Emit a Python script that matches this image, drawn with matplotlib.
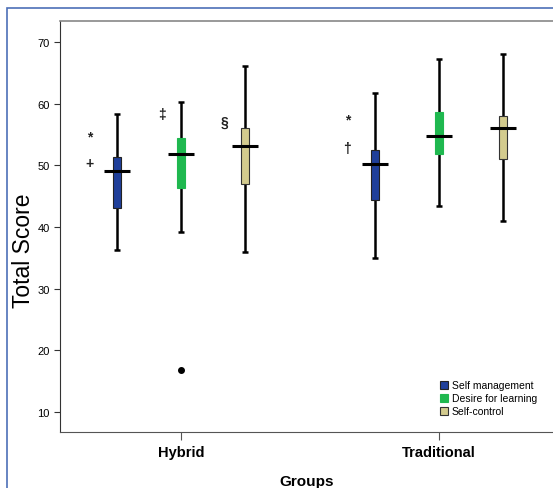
import numpy as np
import matplotlib.pyplot as plt
from matplotlib.patches import Rectangle

plt.rcParams['font.family'] = ['Liberation Sans', 'DejaVu Sans']

# data
groups = ['Hybrid', 'Traditional']
scales = ['Self management', 'Desire for learning', 'Self-control']
colors = ['#1f3f9a', '#1fb84f', '#d3cb8e']
edges = ['#222222', '#1fb84f', '#333333']

whis_lo = [[36.2, 39.2, 36.0], [35.0, 43.4, 41.0]]
q1 = [[43.1, 46.3, 47.0], [44.3, 51.9, 51.0]]
median = [[49.0, 51.9, 53.1], [50.2, 54.7, 56.1]]
q3 = [[51.4, 54.5, 56.1], [52.5, 58.7, 58.0]]
whis_hi = [[58.3, 60.3, 66.1], [61.8, 67.2, 68.1]]
outlier_x = [0]          # Hybrid, Desire for learning
outlier_s = [1]
outlier_y = [16.8]

# significance marks
mark_txt = ['*', '+', '\u2021', '\u00a7', '*', '\u2020']
mark_x = [-0.355, -0.355, -0.075, 0.167, 0.645, 0.645]
mark_y = [54.6, 50.4, 58.3, 57.1, 57.4, 52.8]

offset = 0.248
box_w = 0.028
med_w = 0.1
cap_w = 0.026

fig = plt.figure(figsize=(5.53, 4.89), dpi=100)
ax = fig.add_axes([0.1085, 0.1145, 0.8915, 0.8405])

for g in range(len(groups)):
    for s in range(len(scales)):
        x = g + (s - 1) * offset
        ax.vlines(x, whis_lo[g][s], whis_hi[g][s], color='black', lw=1.8, zorder=1)
        ax.hlines([whis_lo[g][s], whis_hi[g][s]], x - cap_w / 2, x + cap_w / 2,
                  color='black', lw=1.8, zorder=1)
        ax.bar(x, q3[g][s] - q1[g][s], bottom=q1[g][s], width=box_w,
               color=colors[s], edgecolor=edges[s], lw=0.8, zorder=2,
               label=scales[s] if g == 0 else None)
        ax.hlines(median[g][s], x - med_w / 2, x + med_w / 2,
                  color='black', lw=2.2, zorder=3)

for i in range(len(outlier_y)):
    ax.plot(outlier_x[i] + (outlier_s[i] - 1) * offset, outlier_y[i], 'o',
            color='black', ms=4, zorder=3)

for t, x, y in zip(mark_txt, mark_x, mark_y):
    ax.text(x, y, t, ha='center', va='center', fontsize=10, fontweight='bold',
            color='#222222')

ax.set_xlim(-0.469, 1.442)
ax.set_ylim(6.75, 73.4)
ax.set_yticks([10, 20, 30, 40, 50, 60, 70])
ax.set_xticks([0, 1])
ax.set_xticklabels(groups, fontsize=10.5, fontweight='bold')
ax.tick_params(axis='y', labelsize=8, length=4, color='#333333')
ax.tick_params(axis='x', length=6, color='#555555', pad=3)
ax.spines['right'].set_visible(False)
ax.spines['top'].set_color('#888888')
ax.spines['top'].set_linewidth(1.2)
ax.spines['left'].set_color('#333333')
ax.spines['bottom'].set_color('#555555')

ax.set_ylabel('Total Score', fontsize=16.5)
ax.yaxis.set_label_coords(-0.051, 0.443)
ax.set_xlabel('Groups', fontsize=11, fontweight='bold', labelpad=11)

leg = ax.legend(loc='lower left', bbox_to_anchor=(0.771, 0.038), fontsize=7.5,
                frameon=False, handlelength=0.8, handleheight=0.8,
                handletextpad=0.3, labelspacing=0.3, borderpad=0.0,
                borderaxespad=0.0)

# outer blue frame
fig.add_artist(Rectangle((7 / 553, -0.01), 1.0, 1 - 9 / 489 + 0.01,
                         transform=fig.transFigure, fill=False,
                         edgecolor='#4d6fb8', lw=1.2))

plt.savefig('out.png', dpi=100)
